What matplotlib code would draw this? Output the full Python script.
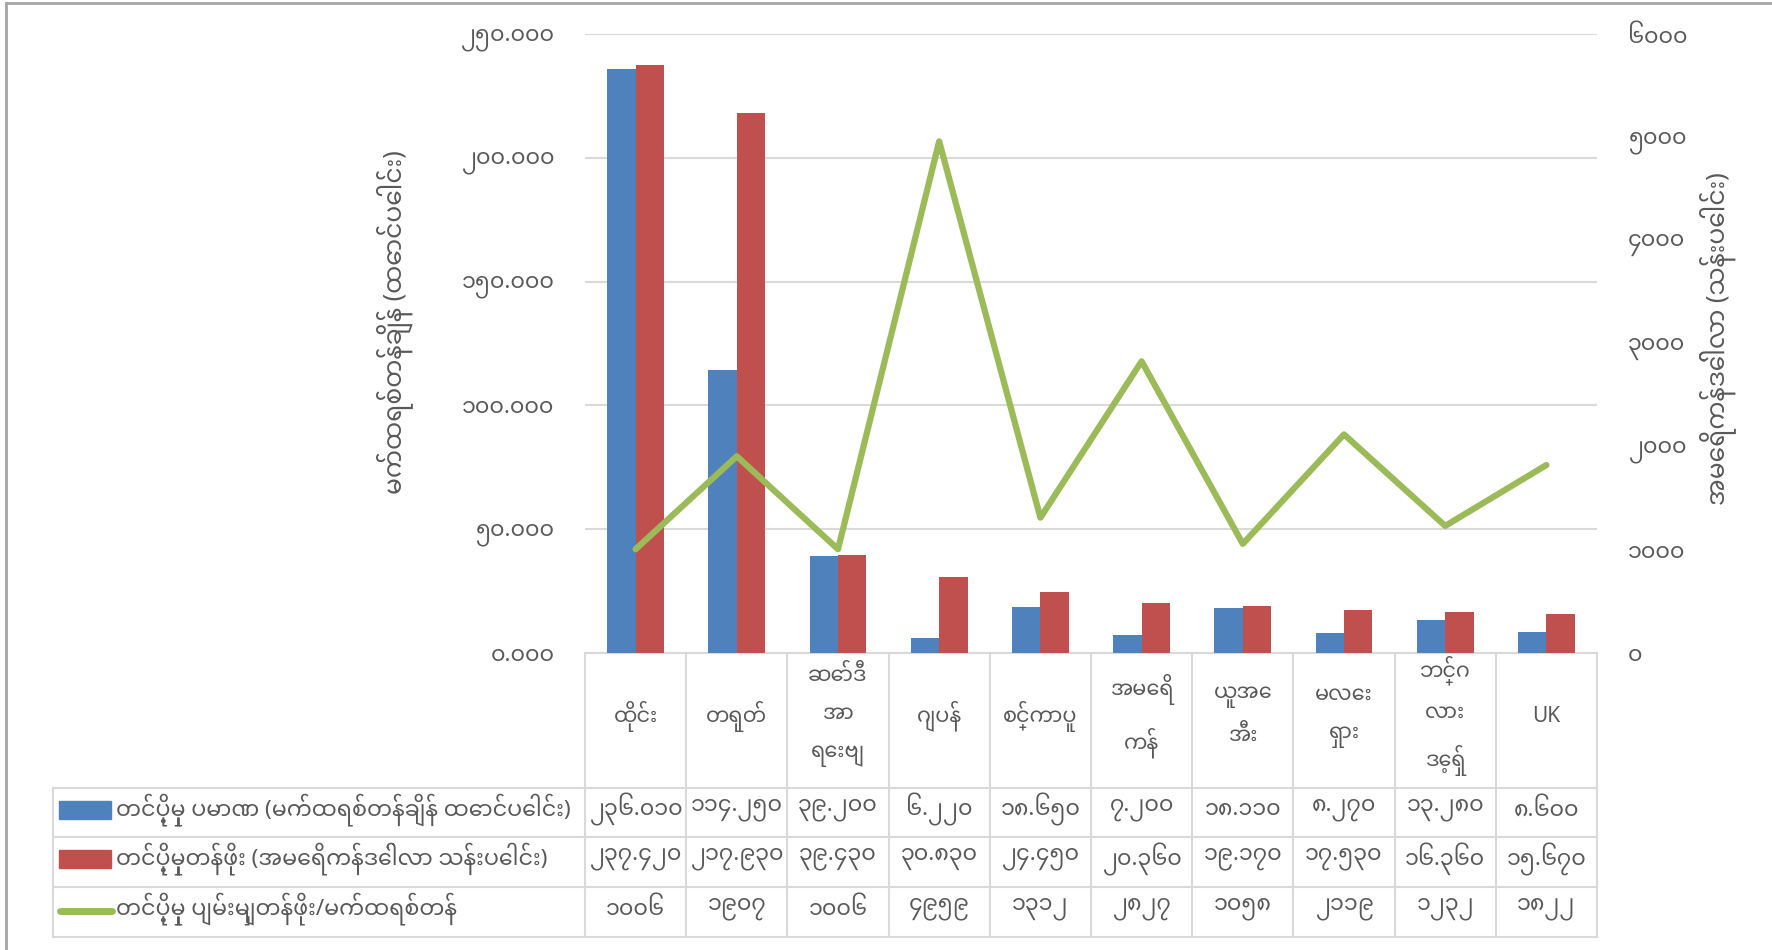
import numpy as np
import matplotlib
matplotlib.use("Agg")
import matplotlib.pyplot as plt
import matplotlib.transforms as mtransforms
from matplotlib import font_manager
from matplotlib.ft2font import FT2Font
from matplotlib.ticker import FuncFormatter, MultipleLocator

# data
countries = ["ထိုင်း", "တရုတ်", "ဆော်ဒီ\nအာ\nရေးဗျ", "ဂျပန်", "စင်္ကာပူ",
             "အမေရိ\nကန်", "ယူအေ\nအီး", "မလေး\nရှား", "ဘင်္ဂ\nလား\nဒေ့ရှ်", "UK"]
volume = [236.010, 114.250, 39.200, 6.220, 18.650, 7.200, 18.110, 8.270, 13.280, 8.600]
value = [237.420, 217.930, 39.430, 30.830, 24.450, 20.360, 19.170, 17.530, 16.360, 15.670]
unit_price = [1006, 1907, 1006, 4959, 1312, 2827, 1058, 2119, 1232, 1822]

label_volume = "တင်ပို့မှု ပမာဏ (မက်ထရစ်တန်ချိန် ထောင်ပေါင်း)"
label_value = "တင်ပို့မှုတန်ဖိုး (အမေရိကန်ဒေါ်လာ သန်းပေါင်း)"
label_price = "တင်ပို့မှု ပျမ်းမျှတန်ဖိုး/မက်ထရစ်တန်"
ylabel_left = "မက်ထရစ်တန်ချိန် (ထောင်ပေါင်း)"
ylabel_right = "အမေရိကန်ဒေါ်လာ (သန်းပေါင်း)"

blue, red, green = "#4F81BD", "#C0504D", "#9BBB59"
txt = "#595959"
grid_c = "#D9D9D9"

# pick a font that has Myanmar glyphs, best known names first
cands = []
for f in font_manager.fontManager.ttflist:
    try:
        if 0x1000 in FT2Font(f.fname).get_charmap():
            cands.append(f.name)
    except Exception:
        pass
prefer = ["Noto Sans Myanmar", "Padauk", "Myanmar Text", "Pyidaungsu", "Myanmar3",
          "Noto Serif Myanmar", "Noto Sans Myanmar UI"]
mm_font = None
for p in prefer:
    if p in cands:
        mm_font = p
        break
if mm_font is None:
    my = [c for c in cands if "yanmar" in c]
    mm_font = my[0] if my else (cands[0] if cands else None)
fams = ([mm_font] if mm_font else []) + ["Noto Sans", "DejaVu Sans"]
plt.rcParams["font.family"] = fams

MM_DIGITS = str.maketrans("0123456789", "၀၁၂၃၄၅၆၇၈၉")


def mm(s):
    return str(s).translate(MM_DIGITS)


W, H = 1772, 950
fig = plt.figure(figsize=(W / 100, H / 100), dpi=100)
fig.set_facecolor("white")


def fx(p):
    return p / W


def fy(p):
    return 1 - p / H


ax_l, ax_r, ax_t, ax_b = 585, 1597, 34, 653
ax = fig.add_axes([fx(ax_l), fy(ax_b), fx(ax_r - ax_l), fy(ax_t) - fy(ax_b)])
x = np.arange(len(countries))
bw = 0.28
ax.bar(x - bw / 2, volume, bw, color=blue, zorder=3)
ax.bar(x + bw / 2, value, bw, color=red, zorder=3)
ax.set_xlim(-0.5, len(countries) - 0.5)
ax.set_ylim(0, 250)
ax.yaxis.set_major_locator(MultipleLocator(50))
ax.yaxis.set_major_formatter(FuncFormatter(lambda v, p: mm(f"{v:.3f}")))
ax.grid(axis="y", color=grid_c, linewidth=1.5, zorder=0)
ax.tick_params(axis="y", length=0, pad=22, labelsize=16, labelcolor=txt)
ax.set_xticks([])
for s in ["top", "right", "left", "bottom"]:
    ax.spines[s].set_visible(False)

ax2 = ax.twinx()
ax2.plot(x, unit_price, color=green, linewidth=4.5, solid_capstyle="round",
         solid_joinstyle="round", zorder=4)
ax2.set_ylim(0, 6000)
ax2.yaxis.set_major_locator(MultipleLocator(1000))
ax2.yaxis.set_major_formatter(FuncFormatter(lambda v, p: mm(f"{v:.0f}")))
ax2.tick_params(axis="y", length=0, pad=22, labelsize=16, labelcolor=txt)
for s in ["top", "right", "left", "bottom"]:
    ax2.spines[s].set_visible(False)

fig.text(fx(395), fy(322), ylabel_left, rotation=90, ha="center", va="center",
         fontsize=18, color=txt)
fig.text(fx(1718), fy(339), ylabel_right, rotation=90, ha="center", va="center",
         fontsize=18, color=txt)

# data table under the chart
tr = mtransforms.blended_transform_factory(ax.transData, fig.transFigure)
row_y = [653, 788, 837, 887, 937]
tbl_left = 53
lw = 1.5
for i in range(len(countries) + 1):
    ax.plot([i - 0.5, i - 0.5], [fy(row_y[0]), fy(row_y[-1])], transform=tr,
            color=grid_c, linewidth=lw, clip_on=False)
ax.plot([-0.5, len(countries) - 0.5], [fy(row_y[0])] * 2, transform=tr,
        color=grid_c, linewidth=lw, clip_on=False)
for yy in row_y[1:]:
    fig.add_artist(plt.Line2D([fx(tbl_left), fx(ax_r)], [fy(yy)] * 2,
                              color=grid_c, linewidth=lw))
fig.add_artist(plt.Line2D([fx(tbl_left)] * 2, [fy(row_y[1]), fy(row_y[-1])],
                          color=grid_c, linewidth=lw))

cell_texts = []
for i, c in enumerate(countries):
    t = ax.text(i, fy(716), c, transform=tr, ha="center", va="center",
                fontsize=15, color=txt, linespacing=2.05)
    cell_texts.append(t)

rows = [[mm(f"{v:.3f}") for v in volume],
        [mm(f"{v:.3f}") for v in value],
        [mm(f"{v:d}") for v in unit_price]]
for r, vals in enumerate(rows):
    yc = (row_y[r + 1] + row_y[r + 2]) / 2 - 3
    for i, s in enumerate(vals):
        t = ax.text(i, fy(yc), s, transform=tr, ha="center", va="center",
                    fontsize=16, color=txt)
        cell_texts.append(t)

# legend keys in the table header column
heads = [label_volume, label_value, label_price]
head_texts = []
for r, lab in enumerate(heads):
    yc = (row_y[r + 1] + row_y[r + 2]) / 2 - 3
    if r < 2:
        fig.add_artist(plt.Rectangle((fx(59), fy(yc + 9)), fx(52), fy(yc - 9) - fy(yc + 9),
                                     color=[blue, red][r]))
    else:
        fig.add_artist(plt.Line2D([fx(60), fx(112)], [fy(yc + 2)] * 2, color=green,
                                  linewidth=5, solid_capstyle="round"))
    head_texts.append(fig.text(fx(116), fy(yc), lab, ha="left", va="center",
                               fontsize=16, color=txt))

# shrink any text that does not fit its cell
renderer = fig.canvas.get_renderer()
for t in cell_texts:
    while t.get_window_extent(renderer).width > 94 and t.get_fontsize() > 6:
        t.set_fontsize(t.get_fontsize() - 0.5)
for t in head_texts:
    while t.get_window_extent(renderer).width > 462 and t.get_fontsize() > 6:
        t.set_fontsize(t.get_fontsize() - 0.5)

# outer frame
fig.add_artist(plt.Line2D([fx(6), fx(6)], [0, fy(3)], color="#A6A6A6", linewidth=2))
fig.add_artist(plt.Line2D([fx(6), 1], [fy(3), fy(3)], color="#A6A6A6", linewidth=2))

fig.savefig("out.png", dpi=100, facecolor="white")
